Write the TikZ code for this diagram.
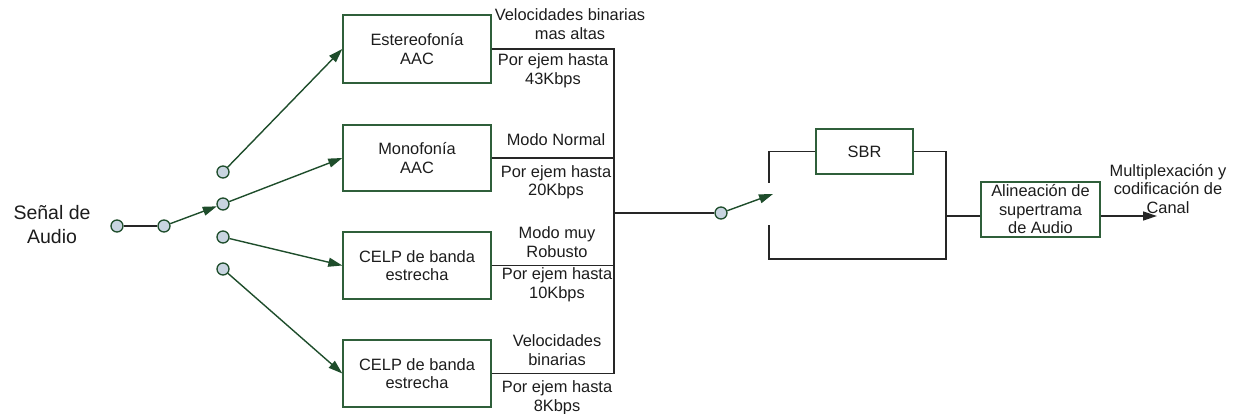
\documentclass[tikz,border=0pt]{standalone}
\usepackage{fontspec}
\setmainfont{Liberation Sans}
\usetikzlibrary{arrows.meta}
\definecolor{dkgreen}{HTML}{1E4D2B}
\definecolor{boxgreen}{HTML}{2F5F3A}
\definecolor{circfill}{HTML}{C8D4E0}
\definecolor{txt}{HTML}{1C1C1C}
\tikzset{
  blk/.style={draw=boxgreen, line width=1.4pt, align=center, inner sep=0pt, text=txt,
    font=\fontsize{16.4}{18.5}\selectfont},
  lbl/.style={align=center, inner sep=0pt, text=txt, font=\fontsize{16.4}{18.5}\selectfont},
  pin/.style={circle, draw=dkgreen, fill=circfill, line width=1.3pt, minimum size=12pt, inner sep=0pt},
  garrow/.style={draw=dkgreen, line width=1.4pt, -{Triangle[length=14pt,width=9pt]}},
  barrow/.style={draw=black!85, line width=1.4pt, -{Triangle[length=14pt,width=9pt]}},
  wire/.style={draw=black!85, line width=1.4pt},
}
\begin{document}
\begin{tikzpicture}[x=1pt,y=-1pt]
\useasboundingbox (0,0) rectangle (1236,414);

% boxes
\node[blk, minimum width=148pt, minimum height=68pt] (b1) at (417,49) {Estereofonía\\AAC};
\node[blk, minimum width=148pt, minimum height=66pt] (b2) at (417,158) {Monofonía\\AAC};
\node[blk, minimum width=148pt, minimum height=67pt] (b3) at (417,265.5) {CELP de banda\\estrecha};
\node[blk, minimum width=148pt, minimum height=67pt] (b4) at (417,373.5) {CELP de banda\\estrecha};
\node[blk, minimum width=97pt, minimum height=45pt] (sbr) at (864.5,151.5) {SBR};
\node[blk, minimum width=119pt, minimum height=55pt] (ali) at (1040.5,209.5) {Alineación de\\supertrama\\de Audio};

% input label
\node[lbl, font=\fontsize{19.5}{24}\selectfont] (sig) at (52,225) {Señal de\\Audio};

% circles
\node[pin] (c0) at (117,226) {};
\node[pin] (c1) at (164,226) {};
\node[pin] (s1) at (223,172) {};
\node[pin] (s2) at (223,204) {};
\node[pin] (s3) at (223,237) {};
\node[pin] (s4) at (223,269) {};
\node[pin] (sw) at (721,213) {};

% coordinates
\coordinate (bus) at (614,213);
\coordinate (swtip) at (773,194);
\coordinate (ltop) at (769,183);
\coordinate (lbot) at (769,225);
\coordinate (lb) at (769,259);
\coordinate (rb) at (946,259);
\coordinate (rjoin) at (946,216);
\coordinate (out) at (1157,216);

% input side
\draw[wire] (c0) -- (c1);
\draw[garrow] (c1) -- (s2);
\draw[garrow] (s1) -- (b1.west);
\draw[garrow] (s2) -- (b2.west);
\draw[garrow] (s3) -- (b3.west);
\draw[garrow] (s4) -- (b4.west);

% bus
\draw[wire] (b1.east) -| (bus);
\draw[wire] (b4.east) -| (bus);
\draw[wire] (b2.east) -- (b2.east -| bus);
\draw[wire] (b3.east) -- (b3.east -| bus);
\draw[wire] (bus) -- (sw);
\draw[garrow] (sw) -- (swtip);

% SBR branch
\draw[wire] (ltop) |- (sbr.west);
\draw[wire] (sbr.east) -| (rb) -- (lb) -- (lbot);
\draw[wire] (rjoin) -- (rjoin -| ali.west);
\draw[barrow] (ali.east |- rjoin) -- (out);

% labels
\node[lbl] (l1a) at (570,24) {Velocidades binarias\\mas altas};
\node[lbl] (l1b) at (553,71) {Por ejem hasta\\43Kbps};
\node[lbl] (l2a) at (556,140) {Modo Normal};
\node[lbl] (l2b) at (556,182.5) {Por ejem hasta\\20Kbps};
\node[lbl] (l3a) at (557,242) {Modo muy\\Robusto};
\node[lbl] (l3b) at (557,285) {Por ejem hasta\\10Kbps};
\node[lbl] (l4a) at (557,350) {Velocidades\\binarias};
\node[lbl] (l4b) at (557,398) {Por ejem hasta\\8Kbps};
\node[lbl] (outl) at (1168,189) {Multiplexación y\\codificación de\\Canal};
\end{tikzpicture}
\end{document}
